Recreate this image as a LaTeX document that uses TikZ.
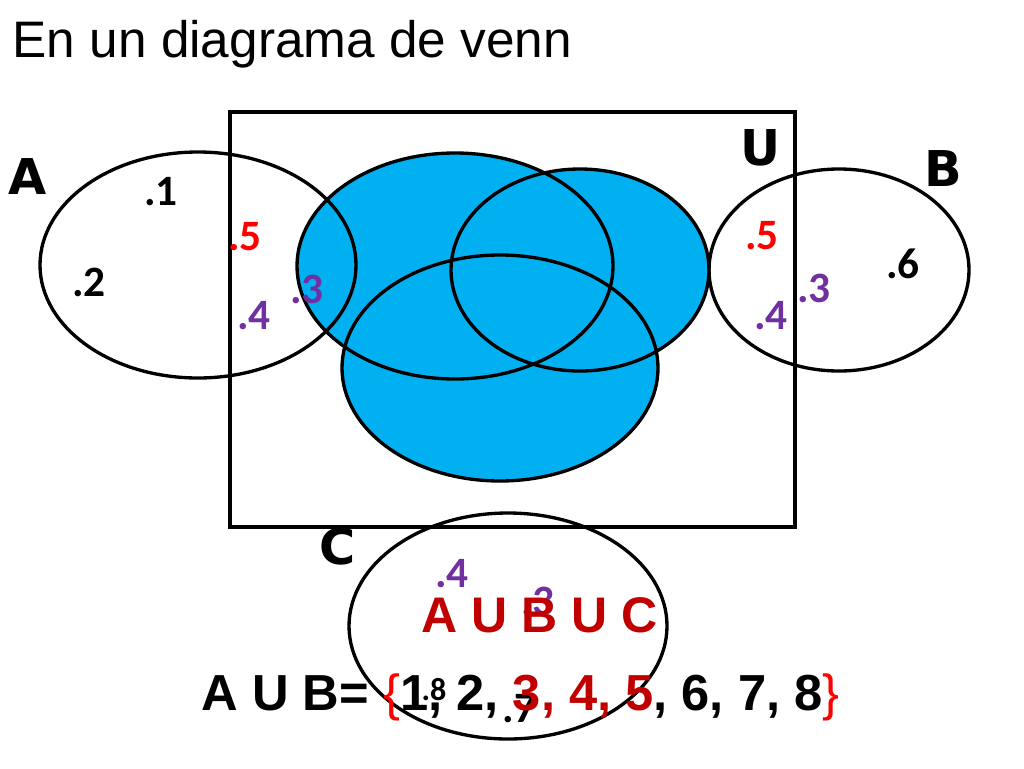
\documentclass[tikz,border=0pt]{standalone}
\usepackage{fontspec}
\setmainfont{Liberation Sans}
\newfontfamily\numfont{Carlito}
\newfontfamily\heavyfont{DejaVu Sans}
\usepackage{tikz}
\definecolor{skyblue}{HTML}{00B0F0}
\definecolor{darkred}{HTML}{C00000}
\definecolor{purp}{HTML}{7030A0}
\tikzstyle{num}=[inner sep=0pt, font=\numfont\bfseries\fontsize{32.5}{32.5}\selectfont]
\tikzstyle{setname}=[inner sep=0pt, font=\heavyfont\bfseries\fontsize{37}{37}\selectfont]

\begin{document}
\begin{tikzpicture}[x=0.75pt, y=-0.75pt, line width=2.5pt,
                    big/.style={inner sep=0pt, anchor=base west, font=\bfseries\fontsize{37.5}{37.5}\selectfont}]
  \useasboundingbox (0,0) rectangle (1024,768);
  \node[inner sep=0pt, anchor=base west, font=\fontsize{38.5}{38.5}\selectfont] (title) at (11,57) {En un diagrama de venn};
  \fill[skyblue] (455,266) ellipse (158 and 113) (580,270) ellipse (129 and 101) (500,368) ellipse (158 and 113);
  \draw (455,266) ellipse (158 and 113) (580,270) ellipse (129 and 101) (500,368) ellipse (158 and 113);
  \draw (230,112) rectangle (795,527);
  \draw (198,265) ellipse (158 and 113);
  \draw (839,270) ellipse (130 and 101);
  \draw (508,626) ellipse (159 and 113);
  \node[setname] (A) at (28,177) {A};
  \node[setname] (B) at (943,169) {B};
  \node[setname] (U) at (761,148) {U};
  \node[setname] (C) at (338,547) {C};
  \node[num] (a1) at (161,192) {.1};
  \node[num] (a2) at (89,282) {.2};
  \node[num, text=red] (a5) at (245,237) {.5};
  \node[num, text=purp] (a3) at (307,289) {.3};
  \node[num, text=purp] (a4) at (254,316) {.4};
  \node[num, text=red] (b5) at (762,236) {.5};
  \node[num, text=purp] (b3) at (814,288) {.3};
  \node[num, text=purp] (b4) at (771,316) {.4};
  \node[num] (b6) at (903,264) {.6};
  \node[num, text=purp] (c4) at (452,574) {.4};
  \node[num, text=purp] (c3) at (538,601) {.3};
  \node[num, anchor=base west, font=\numfont\bfseries\fontsize{24}{24}\selectfont] (c8) at (420,700) {.8};
  \node[num, anchor=base west] (c7) at (501,722) {.7};
  \node[big, text=darkred] (triple) at (420,632) {A U B U C};
  \node[big, font=\bfseries\fontsize{38}{38}\selectfont] (union) at (200,710) {A U B= \textcolor{red}{\mdseries\{}1, 2, \textcolor{darkred}{3, 4, 5}, 6, 7, 8\textcolor{red}{\mdseries\}}};
\end{tikzpicture}
\end{document}
